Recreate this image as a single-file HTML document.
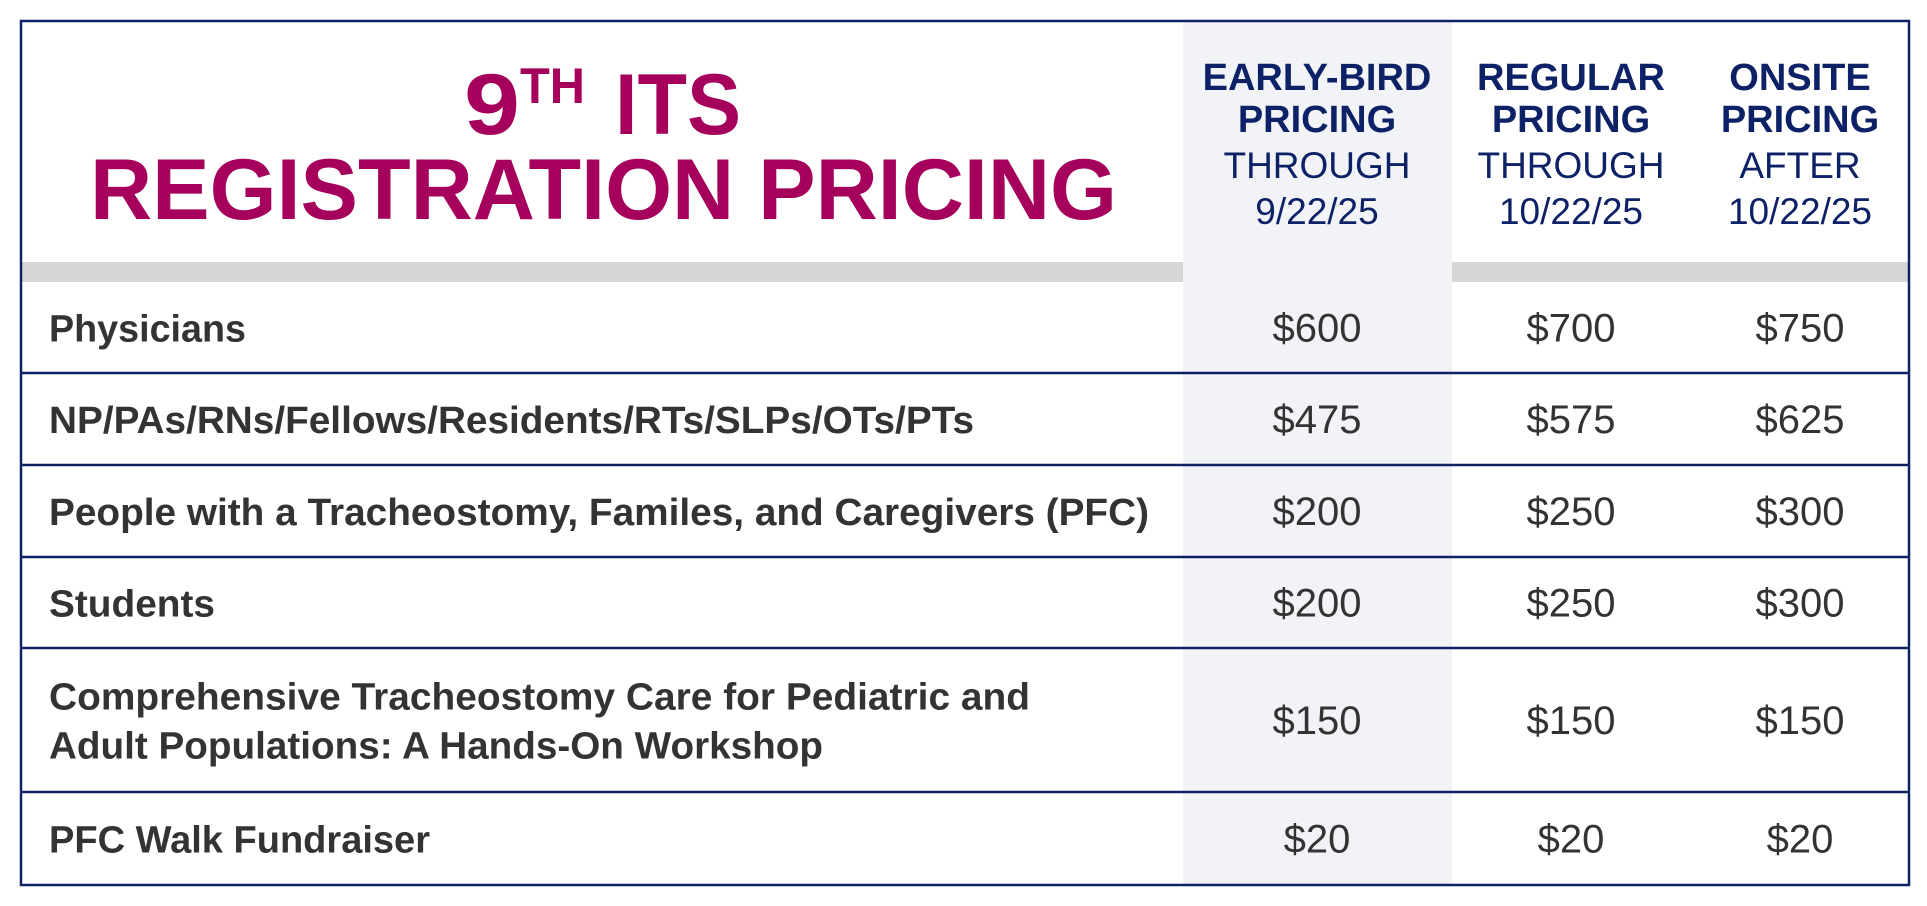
<!DOCTYPE html>
<html><head><meta charset="utf-8">
<style>
html,body{margin:0;padding:0;background:#fff;}
svg{display:block;}
</style></head>
<body>
<svg width="1927" height="906" viewBox="0 0 1927 906" xmlns="http://www.w3.org/2000/svg" font-family="'Liberation Sans', sans-serif">
  <rect x="0" y="0" width="1927" height="906" fill="#fff"/>
  <rect x="1183" y="21" width="269" height="864" fill="#f2f3f7"/>
  <rect x="21" y="262" width="1162" height="20" fill="#d6d6d6"/>
  <rect x="1452" y="262" width="457" height="20" fill="#d6d6d6"/>

  <g fill="#a4005c" font-weight="bold">
    <text x="464" y="134" font-size="86" textLength="56" lengthAdjust="spacingAndGlyphs">9</text>
    <text x="520" y="103" font-size="50" textLength="65" lengthAdjust="spacingAndGlyphs">TH</text>
    <text x="615" y="134" font-size="86" textLength="126" lengthAdjust="spacingAndGlyphs">ITS</text>
    <text x="90" y="219" font-size="86" textLength="1027" lengthAdjust="spacingAndGlyphs">REGISTRATION PRICING</text>
  </g>

  <g id="headers" fill="#0d2266" text-anchor="middle"></g>
  <g id="rows"></g>
  <g id="lines" stroke="#0d2266" stroke-width="2.5"></g>
  <rect x="21" y="21" width="1888" height="864" fill="none" stroke="#0d2266" stroke-width="2.5"/>
</svg>
<script>
const colCenters = [1317, 1571, 1800];
const headBold1 = ["EARLY-BIRD", "REGULAR", "ONSITE"];
const headBold2 = ["PRICING", "PRICING", "PRICING"];
const headReg1 = ["THROUGH", "THROUGH", "AFTER"];
const headReg2 = ["9/22/25", "10/22/25", "10/22/25"];
const headWidths = [226, 186, 146];
const labels = [
  ["Physicians"],
  ["NP/PAs/RNs/Fellows/Residents/RTs/SLPs/OTs/PTs"],
  ["People with a Tracheostomy, Familes, and Caregivers (PFC)"],
  ["Students"],
  ["Comprehensive Tracheostomy Care for Pediatric and", "Adult Populations: A Hands-On Workshop"],
  ["PFC Walk Fundraiser"]
];
const labelWidths = [[197],[925],[1100],[166],[981,774],[381]];
const earlyBird = [600, 475, 200, 200, 150, 20];
const regular = [700, 575, 250, 250, 150, 20];
const onsite = [750, 625, 300, 300, 150, 20];
const rowTops = [282, 373, 465, 557, 648, 792, 885];

const NS = "http://www.w3.org/2000/svg";
function mk(tag, attrs, txt){const e=document.createElementNS(NS,tag);for(const k in attrs)e.setAttribute(k,attrs[k]);if(txt!==undefined)e.textContent=txt;return e;}
const hg=document.getElementById('headers');
const hb=[90,132,178,224];
for(let i=0;i<3;i++){
  const lines=[[headBold1[i],'bold'],[headBold2[i],'bold'],[headReg1[i],'normal'],[headReg2[i],'normal']];
  lines.forEach((l,j)=>{
    const t=mk('text',{x:colCenters[i],y:hb[j],'font-size':j<2?38:37,'font-weight':l[1]},l[0]);
    
    
    hg.appendChild(t);
  });
}
const rg=document.getElementById('rows');
const lg=document.getElementById('lines');
const series=[earlyBird,regular,onsite];
for(let r=0;r<labels.length;r++){
  const top=rowTops[r], bot=rowTops[r+1], mid=(top+bot)/2;
  const n=labels[r].length;
  labels[r].forEach((s,k)=>{
    const y = n===1 ? mid+14 : mid+14+(k-0.5)*49;
    const t=mk('text',{x:49,y:y,'font-size':38,'font-weight':'bold',fill:'#333',textLength:labelWidths[r][k],lengthAdjust:'spacingAndGlyphs'},s);
    
    
    rg.appendChild(t);
  });
  series.forEach((arr,c)=>{
    const t=mk('text',{x:colCenters[c],y:mid+14,'font-size':40,fill:'#333','text-anchor':'middle'},'$'+arr[r]);
    
    
    rg.appendChild(t);
  });
  if(r<labels.length-1){
    const ln=mk('line',{x1:21,x2:1909,y1:bot,y2:bot});
    
    
    lg.appendChild(ln);
  }
}
</script>
</body></html>
